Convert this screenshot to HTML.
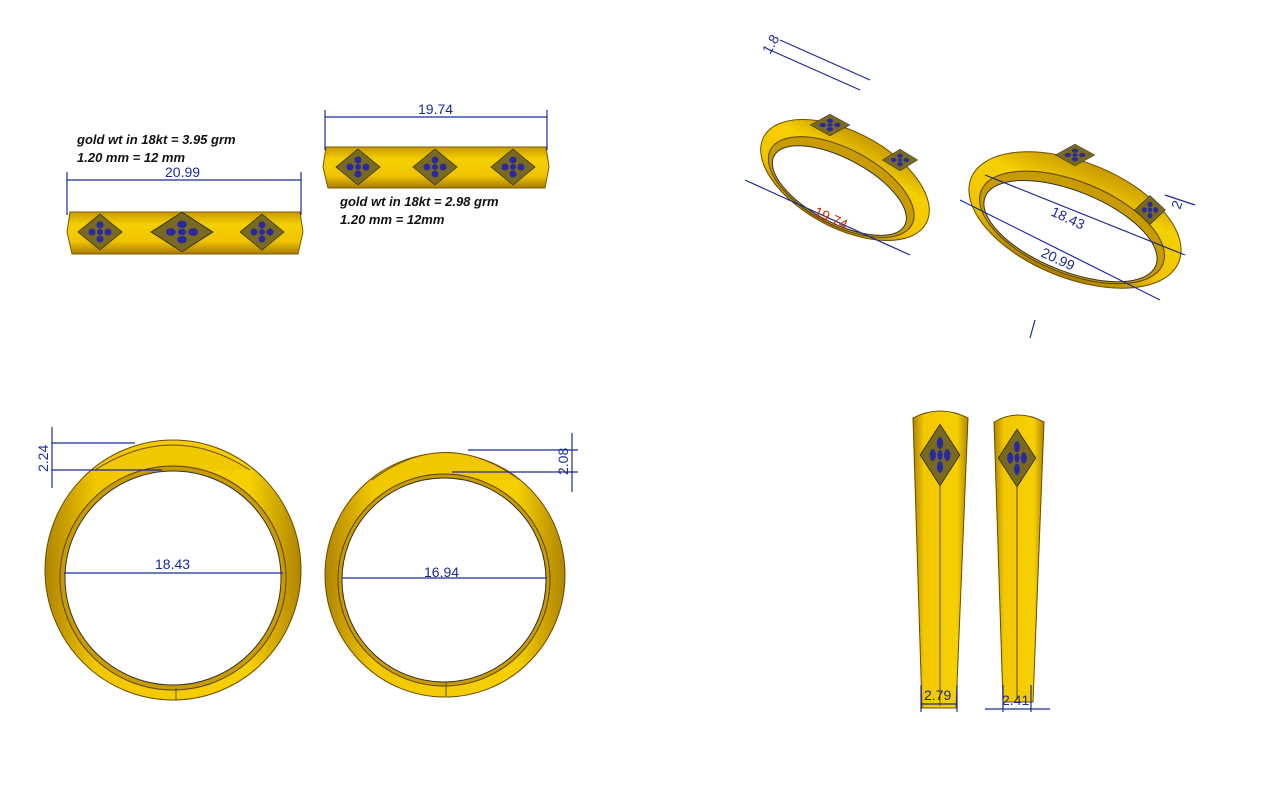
<!DOCTYPE html>
<html><head><meta charset="utf-8"><style>
html,body{margin:0;padding:0;background:#fff;}
svg{display:block}
.t{font-family:"Liberation Sans",sans-serif;fill:#1a2a9a;font-size:14px}
.n{font-family:"Liberation Sans",sans-serif;font-weight:bold;font-style:italic;font-size:13px;fill:#111}
.d{stroke:#1a2a9a;stroke-width:1.2;fill:none}
</style></head><body>
<svg width="1286" height="787" viewBox="0 0 1286 787" xmlns="http://www.w3.org/2000/svg">
<defs>
<linearGradient id="gv" x1="0" y1="0" x2="0" y2="1">
<stop offset="0" stop-color="#c89a00"/><stop offset="0.3" stop-color="#f5d000"/><stop offset="0.7" stop-color="#f0c400"/><stop offset="1" stop-color="#a87c00"/></linearGradient>
<linearGradient id="gh" x1="0" y1="0" x2="1" y2="0">
<stop offset="0" stop-color="#b08400"/><stop offset="0.2" stop-color="#f2c800"/><stop offset="0.8" stop-color="#f5d000"/><stop offset="1" stop-color="#b08400"/></linearGradient>
<g id="dia"><polygon points="0,-18 22,0 0,18 -22,0" fill="#7a6a20" stroke="#333" stroke-width="0.8"/>
<circle cx="-8" cy="0" r="3.5" fill="#2a2aa0"/><circle cx="8" cy="0" r="3.5" fill="#2a2aa0"/><circle cx="0" cy="-7" r="3.5" fill="#2a2aa0"/><circle cx="0" cy="7" r="3.5" fill="#2a2aa0"/><circle cx="0" cy="0" r="3" fill="#2a2aa0"/></g>
</defs>

<text class="n" x="77" y="144">gold wt in 18kt = 3.95 grm</text>
<text class="n" x="77" y="162">1.20 mm = 12 mm</text>
<text class="n" x="340" y="206">gold wt in 18kt = 2.98 grm</text>
<text class="n" x="340" y="224">1.20 mm = 12mm</text>

<path d="M70,212 L300,212 L303,232 L298,254 L72,254 L67,232 Z" fill="url(#gv)" stroke="#7a5a00"/>
<use href="#dia" x="100" y="232"/><use href="#dia" transform="translate(182,232) scale(1.4,1.1)"/><use href="#dia" x="262" y="232"/>
<line class="d" x1="67" y1="180" x2="301" y2="180"/><line class="d" x1="67" y1="172" x2="67" y2="215"/><line class="d" x1="301" y1="172" x2="301" y2="215"/>
<text class="t" x="165" y="177">20.99</text>

<path d="M326,147 L546,147 L549,167 L545,188 L328,188 L323,167 Z" fill="url(#gv)" stroke="#7a5a00"/>
<use href="#dia" x="358" y="167"/><use href="#dia" x="435" y="167"/><use href="#dia" x="513" y="167"/>
<line class="d" x1="325" y1="117" x2="547" y2="117"/><line class="d" x1="325" y1="110" x2="325" y2="150"/><line class="d" x1="547" y1="110" x2="547" y2="150"/>
<text class="t" x="418" y="114">19.74</text>

<ellipse cx="173" cy="570" rx="128" ry="130" fill="url(#gh)" stroke="#6a4c00"/>
<path d="M95,470 Q173,420 250,470" fill="#f0c800" stroke="#6a4c00"/>
<ellipse cx="173" cy="578" rx="113" ry="112" fill="#c89c00" stroke="#5a4000"/>
<ellipse cx="173" cy="578" rx="108" ry="107" fill="#fff" stroke="#333"/>
<line x1="176" y1="688" x2="176" y2="700" stroke="#555"/>
<line class="d" x1="64" y1="573" x2="283" y2="573"/><text class="t" x="155" y="569">18.43</text>
<line class="d" x1="52" y1="443" x2="135" y2="443"/><line class="d" x1="52" y1="470" x2="162" y2="470"/><line class="d" x1="52" y1="427" x2="52" y2="488"/>
<text class="t" x="48" y="472" transform="rotate(-90 48 472)">2.24</text>

<ellipse cx="445" cy="575" rx="120" ry="122" fill="url(#gh)" stroke="#6a4c00"/>
<path d="M372,480 Q445,425 520,480" fill="#f0c800" stroke="#6a4c00"/>
<ellipse cx="444" cy="580" rx="106" ry="106" fill="#c89c00" stroke="#5a4000"/>
<ellipse cx="444" cy="580" rx="102" ry="102" fill="#fff" stroke="#333"/>
<line x1="446" y1="682" x2="446" y2="696" stroke="#555"/>
<line class="d" x1="342" y1="578" x2="547" y2="578"/><text class="t" x="424" y="577">16.94</text>
<line class="d" x1="468" y1="450" x2="578" y2="450"/><line class="d" x1="452" y1="472" x2="578" y2="472"/><line class="d" x1="572" y1="433" x2="572" y2="492"/>
<text class="t" x="568" y="475" transform="rotate(-90 568 475)">2.08</text>

<path d="M913,418 Q940,404 968,418 L956,708 L922,708 Z" fill="url(#gh)" stroke="#6a4c00"/>
<line x1="940" y1="470" x2="940" y2="706" stroke="#333" stroke-width="0.8"/>
<use href="#dia" transform="translate(940,455) scale(0.9,1.7)"/>
<line class="d" x1="921" y1="685" x2="921" y2="712"/><line class="d" x1="957" y1="685" x2="957" y2="712"/><line class="d" x1="921" y1="704" x2="957" y2="704"/>
<text class="t" x="924" y="700">2.79</text>
<path d="M994,422 Q1018,408 1044,422 L1033,702 L1003,702 Z" fill="url(#gh)" stroke="#6a4c00"/>
<line x1="1017" y1="480" x2="1017" y2="700" stroke="#333" stroke-width="0.8"/>
<use href="#dia" transform="translate(1017,458) scale(0.85,1.6)"/>
<line class="d" x1="1003" y1="685" x2="1003" y2="712"/><line class="d" x1="1031" y1="685" x2="1031" y2="712"/><line class="d" x1="985" y1="709" x2="1050" y2="709"/>
<text class="t" x="1002" y="705">2.41</text>

<g transform="rotate(28 845 180)">
<ellipse cx="845" cy="180" rx="92" ry="48" fill="url(#gv)" stroke="#6a4c00"/>
<ellipse cx="845" cy="188" rx="80" ry="38" fill="#c89c00" stroke="#5a4000"/>
<ellipse cx="845" cy="192" rx="74" ry="32" fill="#fff" stroke="#333"/>
</g>
<use href="#dia" transform="translate(830,125) scale(0.9,0.6)"/>
<use href="#dia" transform="translate(900,160) scale(0.8,0.6)"/>
<line class="d" x1="745" y1="180" x2="910" y2="255"/>
<line class="d" x1="770" y1="50" x2="860" y2="90"/><line class="d" x1="780" y1="40" x2="870" y2="80"/>
<text class="t" x="813" y="215" style="fill:#c83000" transform="rotate(25 813 215)">19.74</text>
<text class="t" x="770" y="55" transform="rotate(-60 770 55)">1.8</text>

<g transform="rotate(22 1075 220)">
<ellipse cx="1075" cy="220" rx="112" ry="58" fill="url(#gv)" stroke="#6a4c00"/>
<ellipse cx="1075" cy="228" rx="98" ry="46" fill="#c89c00" stroke="#5a4000"/>
<ellipse cx="1075" cy="232" rx="92" ry="40" fill="#fff" stroke="#333"/>
</g>
<use href="#dia" transform="translate(1075,155) scale(0.9,0.6)"/>
<use href="#dia" transform="translate(1150,210) scale(0.7,0.8)"/>
<line class="d" x1="960" y1="200" x2="1160" y2="300"/><line class="d" x1="985" y1="175" x2="1185" y2="255"/>
<line class="d" x1="1165" y1="195" x2="1195" y2="205"/>
<text class="t" x="1050" y="215" transform="rotate(25 1050 215)">18.43</text>
<text class="t" x="1040" y="256" transform="rotate(25 1040 256)">20.99</text>
<text class="t" x="1180" y="210" transform="rotate(-70 1180 210)">2</text>
<line class="d" x1="1035" y1="320" x2="1030" y2="338"/>
</svg>
</body></html>
